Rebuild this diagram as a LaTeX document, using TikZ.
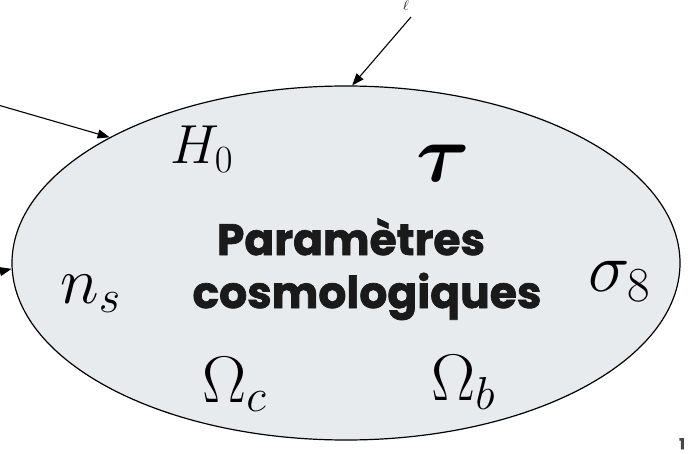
\RequirePackage{fix-cm}
\documentclass[tikz,border=0pt]{standalone}
\usepackage{amsmath}
\usepackage{fontspec}
\newfontfamily\pop{Poppins}[BoldFeatures={FakeBold=1.6}]
\usetikzlibrary{shapes.geometric,arrows.meta}
\definecolor{ellfill}{RGB}{232,235,237}
\definecolor{titlecol}{RGB}{26,26,26}
\definecolor{pagecol}{RGB}{70,70,70}
\tikzset{
  param/.style={anchor=base west,inner sep=0pt},
  arr/.style={line width=1.1pt,-{Triangle[length=12pt,width=9pt]}},
  titletext/.style={anchor=base,inner sep=0pt,text=titlecol,font=\pop\bfseries\fontsize{44}{48}\selectfont}
}
\begin{document}
\begin{tikzpicture}[x=1pt,y=-1pt]
\useasboundingbox (0,0) rectangle (692,454);
\node[ellipse,draw,line width=1.2pt,fill=ellfill,minimum width=668pt,minimum height=354pt,inner sep=0pt] (E) at (346,263) {};
\coordinate (ltop) at (411,17);
\coordinate (lup) at (-2,105);
\coordinate (lmid) at (-2,272);
\node[inner sep=0pt,font=\fontsize{14}{16}\selectfont] (ell) at (406,6) {$\ell$};
\draw[arr] (ltop) -- (E.88);
\draw[arr] (lup) -- (E.152);
\draw[arr] (lmid) -- (E.181);
\node[param,font=\fontsize{55}{59}\selectfont] (H) at (170,164) {$H_0$};
\node[param,font=\fontsize{82}{86}\selectfont] (tau) at (416,182) {$\boldsymbol{\tau}$};
\node[param,font=\fontsize{66}{70}\selectfont] (ns) at (60,303) {$n_s$};
\node[param,font=\fontsize{70}{74}\selectfont] (sig) at (588,291) {$\sigma_8$};
\node[param,font=\fontsize{66}{70}\selectfont] (Oc) at (202,402) {$\Omega_c$};
\node[param,font=\fontsize{66}{70}\selectfont] (Ob) at (431,400) {$\Omega_b$};
\node[titletext] (t1) at (351,255) {Paramètres};
\node[titletext] (t2) at (367,308) {cosmologiques};
\node[anchor=north west,inner sep=0pt,text=pagecol,font=\pop\bfseries\fontsize{15}{17}\selectfont] (page) at (679,438) {1};
\end{tikzpicture}
\end{document}
